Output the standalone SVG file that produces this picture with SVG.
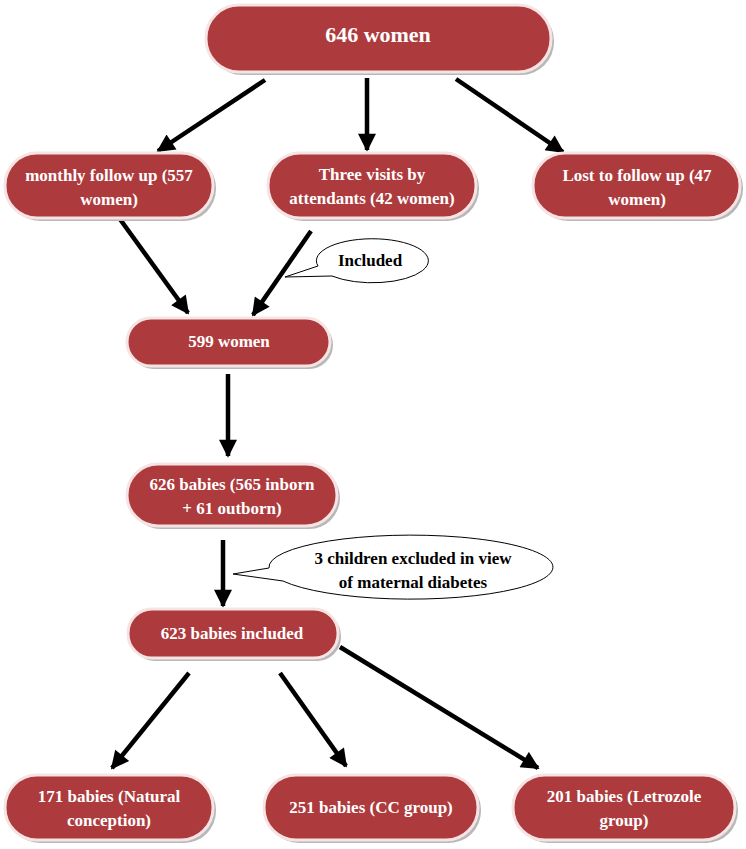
<svg xmlns="http://www.w3.org/2000/svg" width="746" height="849" viewBox="0 0 746 849">
<defs>
<style>
.shadow{fill:#b8b8b8;}
.box{fill:#ad3a3d;stroke:#f6e3e3;stroke-width:3;}
.t{font-family:"Liberation Serif","Times New Roman",serif;font-weight:bold;fill:#ffffff;font-size:17px;text-anchor:middle;}
.big{font-size:22px;}
.c{stroke:#000;stroke-width:4.5;fill:none;marker-end:url(#ah);}
.callout{fill:#fff;stroke:#000;stroke-width:1;}
.ct{font-family:"Liberation Serif","Times New Roman",serif;font-weight:bold;fill:#000;font-size:17px;text-anchor:middle;}
</style>
<marker id="ah" viewBox="0 0 10 10" refX="9" refY="5" markerWidth="4.4" markerHeight="4" orient="auto" markerUnits="strokeWidth">
<path d="M0,0 L10,5 L0,10 z" fill="#000"/>
</marker>
</defs>
<rect width="746" height="849" fill="#fff"/>

<g id="connectors">
<line class="c" x1="265" y1="80" x2="158" y2="151"/>
<line class="c" x1="367" y1="78" x2="367" y2="150"/>
<line class="c" x1="456" y1="79" x2="563" y2="152"/>
<line class="c" x1="109" y1="204" x2="188" y2="313"/>
<line class="c" x1="311" y1="231" x2="253" y2="315"/>
<line class="c" x1="228" y1="374" x2="228" y2="456"/>
<line class="c" x1="223" y1="540" x2="223" y2="606"/>
<line class="c" x1="189" y1="673" x2="112" y2="768"/>
<line class="c" x1="280" y1="673" x2="346" y2="766"/>
<line class="c" x1="340" y1="647" x2="538" y2="768"/>
</g>

<g id="node-646">
<rect class="shadow" x="209" y="8" width="345" height="67" rx="33"/>
<rect class="box" x="206" y="5" width="345" height="67" rx="33"/>
<text class="t big" x="378" y="42">646 women</text>
</g>

<g id="node-monthly">
<rect class="shadow" x="8" y="156" width="208" height="65" rx="32"/>
<rect class="box" x="5" y="153" width="208" height="65" rx="32"/>
<text class="t" x="109" y="181">monthly follow up (557</text>
<text class="t" x="109" y="205">women)</text>
</g>

<g id="node-three">
<rect class="shadow" x="271" y="156" width="208" height="65" rx="32"/>
<rect class="box" x="268" y="153" width="208" height="65" rx="32"/>
<text class="t" x="372" y="180">Three visits by</text>
<text class="t" x="372" y="204">attendants (42 women)</text>
</g>

<g id="node-lost">
<rect class="shadow" x="536" y="156" width="207" height="65" rx="32"/>
<rect class="box" x="533" y="153" width="207" height="65" rx="32"/>
<text class="t" x="637" y="181">Lost to follow up (47</text>
<text class="t" x="637" y="205">women)</text>
</g>

<g id="callout-included">
<path class="callout" d="M285,277 L318,266 A56,22 0 1 1 332,276 Z"/>
<text class="ct" x="370" y="266">Included</text>
</g>

<g id="node-599">
<rect class="shadow" x="130" y="321" width="203" height="48" rx="24"/>
<rect class="box" x="127" y="318" width="203" height="48" rx="24"/>
<text class="t" x="229" y="347">599 women</text>
</g>

<g id="node-626">
<rect class="shadow" x="130" y="467" width="210" height="62" rx="31"/>
<rect class="box" x="127" y="464" width="210" height="62" rx="31"/>
<text class="t" x="232" y="490">626 babies (565 inborn</text>
<text class="t" x="232" y="514">+ 61 outborn)</text>
</g>

<g id="callout-excluded">
<path class="callout" d="M233,574 L269,568 A142,32 0 1 1 283,581 Z"/>
<text class="ct" x="413" y="564">3 children excluded in view</text>
<text class="ct" x="413" y="588">of maternal diabetes</text>
</g>

<g id="node-623">
<rect class="shadow" x="131" y="612" width="210" height="49" rx="24"/>
<rect class="box" x="128" y="609" width="210" height="49" rx="24"/>
<text class="t" x="232" y="639">623 babies included</text>
</g>

<g id="node-171">
<rect class="shadow" x="8" y="778" width="208" height="65" rx="32"/>
<rect class="box" x="5" y="775" width="208" height="65" rx="32"/>
<text class="t" x="109" y="802">171 babies (Natural</text>
<text class="t" x="109" y="826">conception)</text>
</g>

<g id="node-251">
<rect class="shadow" x="267" y="778" width="214" height="65" rx="32"/>
<rect class="box" x="264" y="775" width="214" height="65" rx="32"/>
<text class="t" x="371" y="813">251 babies (CC group)</text>
</g>

<g id="node-201">
<rect class="shadow" x="516" y="778" width="222" height="65" rx="32"/>
<rect class="box" x="513" y="775" width="222" height="65" rx="32"/>
<text class="t" x="624" y="802">201 babies (Letrozole</text>
<text class="t" x="624" y="826">group)</text>
</g>
</svg>
